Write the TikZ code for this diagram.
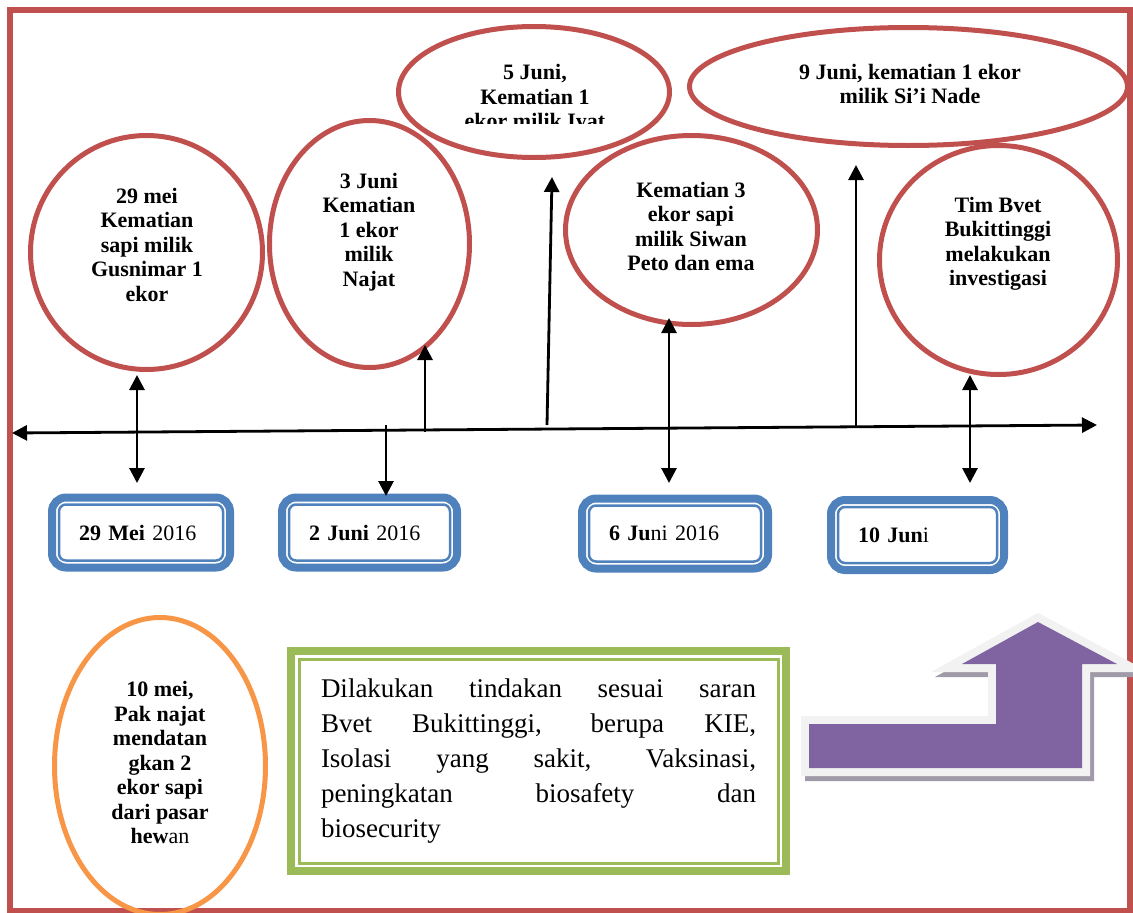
\documentclass[tikz,border=0pt]{standalone}
\usepackage{fontspec}
\setmainfont{Liberation Serif}
\usetikzlibrary{arrows.meta,positioning,shapes.geometric}
\definecolor{framered}{RGB}{192,80,77}
\definecolor{boxblue}{RGB}{79,129,189}
\definecolor{kiegreen}{RGB}{155,187,89}
\definecolor{meiorange}{RGB}{247,150,70}
\definecolor{arrowpurple}{RGB}{128,100,162}
\definecolor{arrowrim}{RGB}{242,242,242}
\definecolor{arrowshade}{RGB}{160,154,168}

\begin{document}
\begin{tikzpicture}[
    x=1pt,y=-1pt,
    >={Triangle[width=15pt,length=15pt]}
]

\tikzset{
    ev/.style={
        ellipse,
        draw=framered,
        line width=5pt,
        inner sep=0pt
    },
    evtext/.style={
        align=center,
        inner sep=0pt,
        font=\fontsize{22}{24.5}\selectfont\bfseries
    },
    datebox/.style={
        draw=boxblue,
        line width=8pt,
        rounded corners=14pt,
        outer sep=0pt,
        minimum height=70pt,
        inner xsep=27pt,
        align=left,
        font=\fontsize{22}{24.5}\selectfont
    },
    dateinner/.style={
        draw=boxblue,
        line width=2.5pt,
        rounded corners=7pt
    },
    conn/.style={line width=2.8pt}
}

\def\bentarrow{(809,724) -- (996,724) -- (996,664) -- (962,664) -- (1038,622)
    -- (1117,664) -- (1082,664) -- (1082,768) -- (809,768) -- cycle}

\useasboundingbox (0,0) rectangle (1133,913);

\draw[framered,line width=6pt] (10,10) rectangle (1130,911);

% kejadian
\node[ev,minimum width=232pt,minimum height=234pt] (mei29) at (146.5,252.5) {};
\node[evtext] (mei29txt) at (147,244.5)
{29 mei\\Kematian\\sapi milik\\Gusnimar 1\\ekor};

\node[ev,minimum width=200pt,minimum height=247pt] (juni3) at (369.5,244) {};
\node[evtext] (juni3txt) at (369,232)
{3 Juni\\Kematian\\1 ekor\\milik\\Najat};

\node[ev,minimum width=271pt,minimum height=131pt] (juni5) at (534,92) {};
\begin{scope}
    \clip (396,24) rectangle (672,123);
    \node[evtext] (juni5txt) at (535,99)
    {5 Juni,\\Kematian 1\\ekor milik Iyat};
\end{scope}

\node[ev,minimum width=252pt,minimum height=189pt] (juni6) at (691.5,230) {};
\node[evtext] (juni6txt) at (691,226.5)
{Kematian 3\\ekor sapi\\milik Siwan\\Peto dan ema};

\node[ev,minimum width=438pt,minimum height=118pt] (juni9) at (908.5,86.5) {};
\node[evtext] (juni9txt) at (910,84)
{9 Juni, kematian 1 ekor\\milik Si’i Nade};

\node[ev,minimum width=238pt,minimum height=229pt] (juni10) at (998.5,260) {};
\node[evtext] (juni10txt) at (998,244)
{Tim Bvet\\Bukittinggi\\melakukan\\investigasi};

\node[ev,draw=meiorange,minimum width=211pt,minimum height=297pt] (mei10) at (160,766) {};
\node[evtext] (mei10txt) at (160,762.5)
{10 mei,\\Pak najat\\mendatan\\gkan 2\\ekor sapi\\dari pasar\\hew\textmd{an}};

% tanggal
\node[datebox,text width=124pt] (d29) at (141,532.5) {\textbf{29 Mei} 2016};
\node[datebox,text width=121pt] (d2) at (369.5,532.5) {\textbf{2 Juni} 2016};
\node[datebox,text width=132pt] (d6) at (675,533.5) {\textbf{6 Ju}ni 2016};
\node[datebox,text width=119pt] (d10) at (917.5,535) {\textbf{10 Jun}i};

\foreach \d in {d29,d2,d6,d10}
    \draw[dateinner]
    ([xshift=7pt,yshift=-7pt]\d.north west) rectangle
    ([xshift=-7pt,yshift=7pt]\d.south east);

% garis waktu
\coordinate (tl) at (12,433);
\coordinate (tr) at (1097,425);
\draw[<->,conn] (tl)--(tr);

\coordinate (a1) at (137,375);
\coordinate (b1) at (137,483);
\coordinate (a2) at (386,425);
\coordinate (b2) at (386,496);
\coordinate (a3) at (425,432);
\coordinate (b3) at (425,345);
\coordinate (a4) at (547,425);
\coordinate (b4) at (552,177);
\coordinate (a5) at (669,318);
\coordinate (b5) at (669,483);
\coordinate (a6) at (856,428);
\coordinate (b6) at (856,165);
\coordinate (a7) at (970,375);
\coordinate (b7) at (970,483);

\draw[<->,conn] (a1)--(b1);
\draw[->,conn] (a2)--(b2);
\draw[->,conn] (a3)--(b3);
\draw[->,conn] (a4)--(b4);
\draw[<->,conn] (a5)--(b5);
\draw[->,conn] (a6)--(b6);
\draw[<->,conn] (a7)--(b7);

% tindakan
\node[
    draw=kiegreen,
    line width=8pt,
    outer sep=0pt,
    minimum width=495pt,
    minimum height=220pt,
    text width=435pt,
    align=justify,
    font=\fontsize{27}{35}\selectfont
] (kie)
at (538.5,761)
{Dilakukan tindakan sesuai saran\linebreak
Bvet Bukittinggi, berupa KIE,\linebreak
Isolasi yang sakit, Vaksinasi,\linebreak
peningkatan biosafety dan\linebreak
biosecurity};

\draw[kiegreen,line width=3pt]
([xshift=8pt,yshift=-8pt]kie.north west) rectangle
([xshift=-8pt,yshift=8pt]kie.south east);

\begin{scope}[shift={(4,5)}]
    \filldraw[arrowshade,line width=16pt] \bentarrow;
\end{scope}
\filldraw[arrowrim,line width=16pt] \bentarrow;
\fill[arrowpurple] \bentarrow;

\end{tikzpicture}
\end{document}
